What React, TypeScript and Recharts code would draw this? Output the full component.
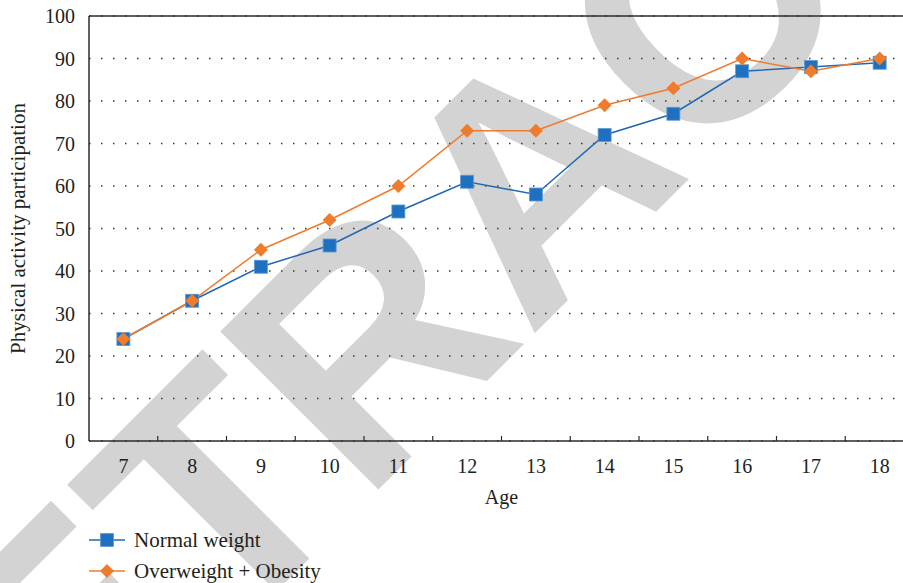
import React from "react";
import { LineChart, Line, XAxis, YAxis, CartesianGrid, ReferenceLine, Legend } from "recharts";

const ages = [7, 8, 9, 10, 11, 12, 13, 14, 15, 16, 17, 18];
const normalWeight = [24, 33, 41, 46, 54, 61, 58, 72, 77, 87, 88, 89];
const overweightObesity = [24, 33, 45, 52, 60, 73, 73, 79, 83, 90, 87, 90];
const yTicks = [0, 10, 20, 30, 40, 50, 60, 70, 80, 90, 100];

const data = ages.map((age, i) => ({ age, normal: normalWeight[i], over: overweightObesity[i] }));
// labels on whole ages, small marks between them
const xTicks = ages.flatMap((a, i) => (i === 0 ? [a] : [a - 0.5, a]));

const FONT = "'Liberation Serif', 'Times New Roman', serif";
const INK = "#231f20";
const AXIS = "#2b2b2b";
const BLUE = "#2168b2";
const BLUE_FILL = "#1f70c1";
const ORANGE = "#ef7b2c";

const Square = ({ cx, cy }: any) => (
  <rect x={cx - 6.5} y={cy - 6.5} width={13} height={13} fill={BLUE_FILL} stroke="#5b9bd5" strokeWidth={0.8} />
);

const Diamond = ({ cx, cy }: any) => (
  <path d={`M${cx},${cy - 7} L${cx + 7},${cy} L${cx},${cy + 7} L${cx - 7},${cy} Z`} fill={ORANGE} />
);

const AgeTick = (props: any) => {
  const { x, y, payload } = props;
  if (!Number.isInteger(payload.value)) {
    return <line x1={x} x2={x} y1={y - 18} y2={y - 23} stroke={AXIS} strokeWidth={1.2} />;
  }
  return (
    <text x={x} y={y} dy="0.71em" textAnchor="middle" fill={INK} fontSize={20} fontFamily={FONT}>
      {payload.value}
    </text>
  );
};

const YLabel = (props: any) => {
  const vb = props.viewBox || { x: 0, y: 16, height: 425 };
  const x = vb.x + 18;
  const y = vb.y + vb.height / 2;
  return (
    <text x={x} y={y} transform={`rotate(-90 ${x} ${y})`} textAnchor="middle" dominantBaseline="central" fill={INK} fontSize={21} fontFamily={FONT}>
      Physical activity participation
    </text>
  );
};

const LegendBox = (props: any) => {
  const items = props.payload || [];
  return (
    <div style={{ fontFamily: FONT, fontSize: 21, color: INK }}>
      {items.map((it: any) => {
        const isNormal = it.dataKey === "normal";
        const c = isNormal ? BLUE : ORANGE;
        return (
          <div key={it.value} style={{ display: "flex", alignItems: "center", height: 31 }}>
            <svg width={36} height={20} style={{ display: "block" }}>
              <line x1={0} x2={36} y1={10} y2={10} stroke={c} strokeWidth={1.5} />
              {isNormal ? <Square cx={18} cy={10} /> : <Diamond cx={18} cy={10} />}
            </svg>
            <span style={{ marginLeft: 9, whiteSpace: "nowrap", lineHeight: "24px" }}>{it.value}</span>
          </div>
        );
      })}
    </div>
  );
};

export default function App() {
  return (
    <div style={{ position: "fixed", left: 0, top: 0, width: 903, height: 583, overflow: "hidden", background: "#fff" }}>
      <svg width={903} height={583} style={{ position: "absolute", left: 0, top: 0 }}>
        <text
          x={612}
          y={256}
          transform="rotate(-45 612 256)"
          textAnchor="middle"
          fill="#d3d3d3"
          fontSize={325}
          fontWeight="bold"
          fontFamily="'Liberation Sans', Arial, sans-serif"
        >
          RETRACTED
        </text>
      </svg>
      <div style={{ position: "absolute", left: 0, top: 0 }}>
        <LineChart width={920} height={583} data={data} margin={{ top: 16, right: 6, bottom: 82, left: 0 }}>
          <CartesianGrid horizontal vertical={false} stroke="#3a3a3a" strokeWidth={1.5} strokeDasharray="1.5 10.5" />
          <XAxis
            dataKey="age"
            type="number"
            domain={[6.5, 18.5]}
            ticks={xTicks}
            interval={0}
            height={60}
            tickLine={false}
            tickSize={0}
            tickMargin={18}
            axisLine={{ stroke: AXIS, strokeWidth: 1.5 }}
            tick={<AgeTick />}
            label={{ value: "Age", position: "insideBottom", offset: -3, fill: INK, fontSize: 20, fontFamily: FONT }}
          />
          <YAxis
            domain={[0, 100]}
            ticks={yTicks}
            interval={0}
            width={89}
            tickLine={false}
            tickSize={0}
            tickMargin={14}
            axisLine={{ stroke: AXIS, strokeWidth: 1.5 }}
            tick={{ fill: INK, fontSize: 20, fontFamily: FONT }}
            label={<YLabel />}
          />
          <ReferenceLine y={100} stroke={AXIS} strokeWidth={1.5} />
          <Legend
            layout="horizontal"
            verticalAlign="middle"
            align="center"
            content={<LegendBox />}
            wrapperStyle={{ top: 524, left: 89, width: 400, height: 64, overflow: "visible" }}
          />
          <Line
            dataKey="normal"
            name="Normal weight"
            stroke={BLUE}
            strokeWidth={1.5}
            dot={<Square />}
            activeDot={false}
            isAnimationActive={false}
          />
          <Line
            dataKey="over"
            name="Overweight + Obesity"
            stroke={ORANGE}
            strokeWidth={1.5}
            dot={<Diamond />}
            activeDot={false}
            isAnimationActive={false}
          />
        </LineChart>
      </div>
    </div>
  );
}
